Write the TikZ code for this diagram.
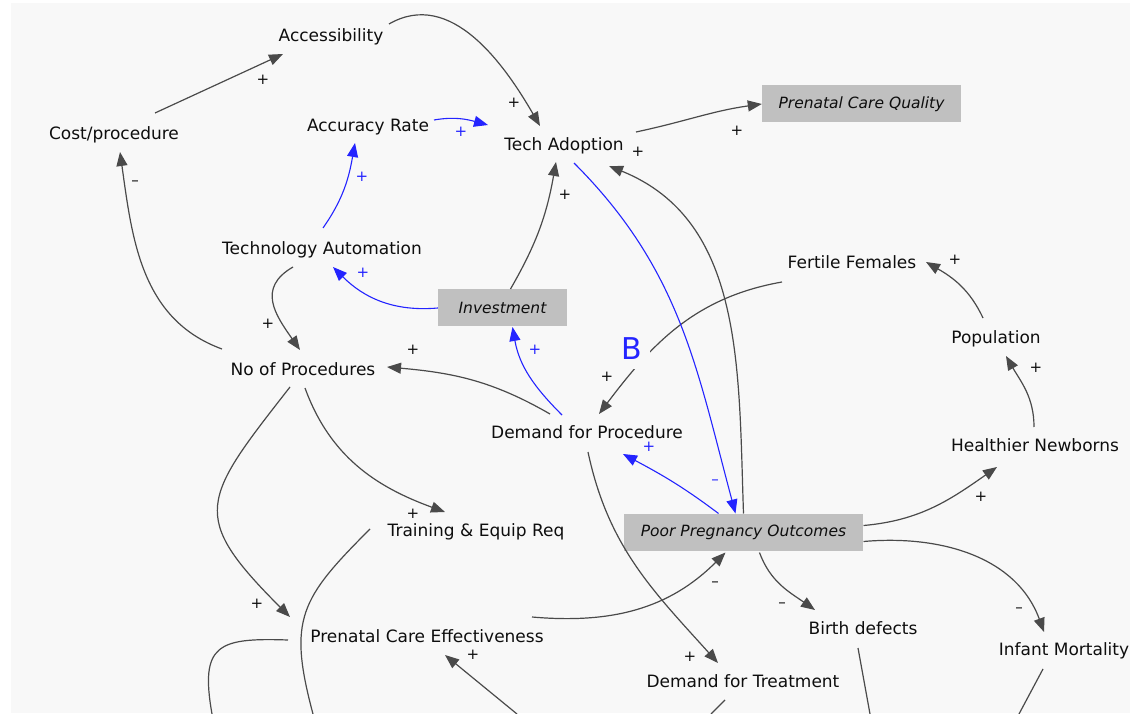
\documentclass[tikz,border=0pt]{standalone}
\usepackage{fontspec}
\setmainfont{DejaVu Sans}
\usetikzlibrary{arrows.meta}

\definecolor{bgcol}{HTML}{F8F8F8}
\definecolor{boxcol}{HTML}{C0C0C0}
\definecolor{linkcol}{HTML}{4A4A4A}
\definecolor{txtcol}{HTML}{0E0E0E}
\definecolor{posblue}{HTML}{2424FF}

\begin{document}
\begin{tikzpicture}[x=1pt,y=1pt, >={Triangle[length=14pt,width=11pt]},
    font=\fontsize{17}{20}\selectfont,
    var/.style={inner sep=1pt,text=txtcol,text height=13pt,text depth=4pt},
    stock/.style={fill=boxcol,inner sep=0pt,minimum height=37pt,text=txtcol,
                  font=\fontsize{15.5}{18}\selectfont\itshape},
    link/.style={->,draw=linkcol,line width=1.2pt},
    blink/.style={->,draw=posblue,line width=1.1pt},
    pol/.style={inner sep=0pt,text=txtcol,font=\fontsize{15}{18}\selectfont},
    bpol/.style={pol,text=posblue}
    ]
    \useasboundingbox (0,0) rectangle (1130,713);
    \fill[bgcol] (11,0) rectangle (1130,710);

    % variables
    \node[var] (Acc) at (331,676) {Accessibility};
    \node[var] (Cost) at (114,578) {Cost/procedure};
    \node[var] (AccR) at (368,586) {Accuracy Rate};
    \node[var] (Tech) at (564,567) {Tech Adoption};
    \node[stock,minimum width=199pt] (PCQ) at (861.5,609) {Prenatal Care Quality};
    \node[var] (Auto) at (322,463) {Technology Automation};
    \node[stock,minimum width=129pt] (Inv) at (502.5,405) {Investment};
    \node[var] (FF) at (852,449) {Fertile Females};
    \node[var] (Pop) at (996,374) {Population};
    \node[var] (NoP) at (303,342) {No of Procedures};
    \node[var] (DfP) at (587,279) {Demand for Procedure};
    \node[var] (HN) at (1035,266) {Healthier Newborns};
    \node[var] (TER) at (476,181) {Training \& Equip Req};
    \node[stock,minimum width=239pt] (PPO) at (743.5,180.5) {Poor Pregnancy Outcomes};
    \node[var] (PCE) at (427,75) {Prenatal Care Effectiveness};
    \node[var] (BD) at (863,83) {Birth defects};
    \node[var] (IM) at (1064,62) {Infant Mortality};
    \node[var] (DfT) at (743,30) {Demand for Treatment};

    % loose ends below the frame
    \coordinate (ter0) at (313,-1);
    \coordinate (pce0) at (212,-1);
    \coordinate (pce1) at (517,-1);
    \coordinate (dft0) at (711,-1);
    \coordinate (bd0) at (870,-1);
    \coordinate (im0) at (1019,-1);

    % links
    \draw[link] ([shift={(41,22)}]Cost.center) -- ([shift={(-48,-17)}]Acc.center);
    \draw[link] ([shift={(58,13)}]Acc.center) to[out=30,in=120] ([shift={(-24,20)}]Tech.center);
    \draw[blink] ([shift={(66,7)}]AccR.center) to[out=10,in=165] ([shift={(-76,21)}]Tech.center);
    \draw[link] ([shift={(72,14)}]Tech.center) to[out=12,in=-172] (PCQ.west);
    \draw[blink] ([shift={(1,22)}]Auto.center) to[out=55,in=-100] ([shift={(-13,-16)}]AccR.center);
    \draw[blink] (Inv.west) to[out=185,in=-45] ([shift={(11,-17)}]Auto.center);
    \draw[link] ([shift={(8,19)}]Inv.center) to[out=60,in=-100] ([shift={(-8,-16)}]Tech.center);
    \draw[link] ([shift={(-29,-17)}]Auto.center) to[out=210,in=125,looseness=1.3] ([shift={(-3,21)}]NoP.center);
    \draw[link] ([shift={(-81,22)}]NoP.center) to[out=160,in=-82] ([shift={(6,-17)}]Cost.center);
    \draw[link] ([shift={(-37,20)}]DfP.center) to[out=150,in=-5] ([shift={(84,4)}]NoP.center);
    \draw[blink] ([shift={(-25,19)}]DfP.center) to[out=135,in=-80] ([shift={(10,-19)}]Inv.center);
    \draw[link] ([shift={(-70,-18)}]FF.center) to[out=190,in=53] ([shift={(12,20)}]DfP.center);
    \draw[blink] ([shift={(10,-17)}]Tech.center) to[out=-45,in=105] ([shift={(-8,19)}]PPO.center);
    \draw[link] ([shift={(0,19)}]PPO.center) to[out=92,in=-22] ([shift={(45,-20)}]Tech.center);
    \draw[blink] ([shift={(-25,19)}]PPO.center) to[out=143,in=-28] ([shift={(36,-20)}]DfP.center);
    \draw[link] ([shift={(120,7)}]PPO.center) to[out=5,in=-145] ([shift={(-38,-20)}]HN.center);
    \draw[link] ([shift={(-1,20)}]HN.center) to[out=90,in=-60] ([shift={(10,-17)}]Pop.center);
    \draw[link] ([shift={(-13,21)}]Pop.center) to[out=115,in=-30] ([shift={(74,2)}]FF.center);
    \draw[link] ([shift={(16,-20)}]PPO.center) to[out=-70,in=145] ([shift={(-48,20)}]BD.center);
    \draw[link] ([shift={(120,-9)}]PPO.center) to[out=5,in=110] ([shift={(-20,19)}]IM.center);
    \draw[link] ([shift={(1,-18)}]DfP.center) to[out=-78,in=132] ([shift={(-25,20)}]DfT.center);
    \draw[link] ([shift={(105,21)}]PCE.center) to[out=-5,in=-135] ([shift={(-18,-20)}]PPO.center);
    \draw[link] ([shift={(2,-17)}]NoP.center) to[out=-70,in=160] ([shift={(-31,20)}]TER.center);
    \draw[link] ([shift={(-13,-16)}]NoP.center) to[out=232,in=135,looseness=1.6] ([shift={(-137,21)}]PCE.center);
    \draw[link,-] ([shift={(-106,3)}]TER.center) to[out=225,in=105,looseness=1.3] (ter0);
    \draw[link,-] ([shift={(-139,-2)}]PCE.center) to[out=178,in=100,looseness=1.7] (pce0);
    \draw[link] (pce1) -- ([shift={(18,-17)}]PCE.center);
    \draw[link,-] ([shift={(-18,-17)}]DfT.center) -- (dft0);
    \draw[link,-] ([shift={(-5,-18)}]BD.center) -- (bd0);
    \draw[link,-] ([shift={(-21,-18)}]IM.center) -- (im0);

    % loop marker
    \node[text=posblue,fill=bgcol,inner xsep=8pt,inner ysep=9pt,
          font=\fontsize{30}{30}\selectfont] (B) at (632,364) {B};

    % polarities
    \node[pol] (s1) at (263,633) {+};
    \node[pol] (s2) at (514,610) {+};
    \node[bpol] (s3) at (461,581) {+};
    \node[pol] (s4) at (737,582) {+};
    \node[bpol] (s5) at (362,536) {+};
    \node[bpol] (s6) at (363,440) {+};
    \node[pol] (s7) at (565,518) {+};
    \node[pol] (s8) at (268,389) {+};
    \node[pol] (s9) at (135,530) {–};
    \node[pol] (s10) at (413,363) {+};
    \node[bpol] (s11) at (535,363) {+};
    \node[pol] (s12) at (607,336) {+};
    \node[bpol] (s13) at (715,231) {–};
    \node[pol] (s14) at (638,561) {+};
    \node[bpol] (s15) at (649,266) {+};
    \node[pol] (s16) at (981,216) {+};
    \node[pol] (s17) at (1036,345) {+};
    \node[pol] (s18) at (955,453) {+};
    \node[pol] (s19) at (782,108) {–};
    \node[pol] (s20) at (1019,103) {–};
    \node[pol] (s21) at (690,56) {+};
    \node[pol] (s22) at (715,129) {–};
    \node[pol] (s23) at (413,199) {+};
    \node[pol] (s24) at (257,109) {+};
    \node[pol] (s27) at (473,58) {+};
\end{tikzpicture}
\end{document}
